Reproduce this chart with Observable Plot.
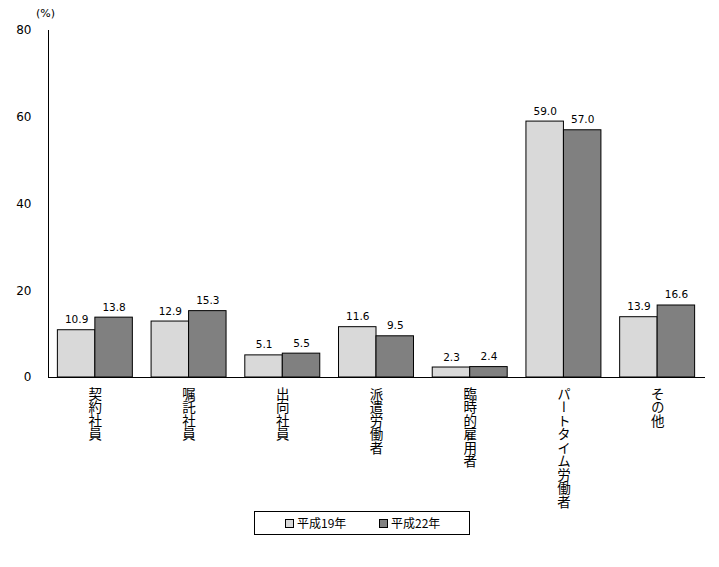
<!DOCTYPE html>
<html><head><meta charset="utf-8">
<script src="https://cdn.jsdelivr.net/npm/d3@7"></script>
<script src="https://cdn.jsdelivr.net/npm/@observablehq/plot@0.6"></script>
<style>
body{margin:0;background:#fff;}
#wrap{position:relative;width:719px;height:567px;font-family:"DejaVu Sans",sans-serif;}
#unit{position:absolute;left:36px;top:7px;font-size:11px;color:#000;}
#legend{position:absolute;left:254px;top:511px;width:214px;height:22px;border:1px solid #000;box-sizing:content-box;font-family:"Noto Sans CJK JP",sans-serif;font-size:12px;}
.li{position:absolute;top:3px;display:flex;align-items:center;line-height:16px;}
.sw{width:7px;height:7px;border:1px solid #000;margin-right:3px;}
</style></head><body><div id="wrap"><div id="unit">(%)</div></div>
<script>
const categories = ["契約社員","嘱託社員","出向社員","派遣労働者","臨時的雇用者","パートタイム労働者","その他"];
const seriesNames = ["平成19年","平成22年"];
const valuesH19 = [10.9,12.9,5.1,11.6,2.3,59.0,13.9];
const valuesH22 = [13.8,15.3,5.5,9.5,2.4,57.0,16.6];
const yTicks = [0,20,40,60,80];
const colors = ["#d9d9d9","#808080"];

const W = 719, ML = 48, MR = 15;
const padIn = 0.2, padOut = 0.1;
const step = (W - ML - MR) / (categories.length - padIn + 2 * padOut);
const half = step * (1 - padIn) / 2;

const d19 = categories.map((c,i)=>({cat:c, series:seriesNames[0], value:valuesH19[i]}));
const d22 = categories.map((c,i)=>({cat:c, series:seriesNames[1], value:valuesH22[i]}));

const plot = Plot.plot({
  width:W, height:510,
  marginLeft:ML, marginRight:MR, marginTop:30, marginBottom:133,
  style:{fontFamily:"DejaVu Sans", background:"#fff", overflow:"visible"},
  x:{domain:categories, paddingInner:padIn, paddingOuter:padOut, round:false, axis:null},
  y:{domain:[0,80]},
  color:{domain:seriesNames, range:colors},
  marks:[
    Plot.barY(d19,{x:"cat", y:"value", fill:"series", stroke:"#000", strokeWidth:1, insetRight:half}),
    Plot.barY(d22,{x:"cat", y:"value", fill:"series", stroke:"#000", strokeWidth:1, insetLeft:half}),
    Plot.text(d19,{x:"cat", y:"value", text:d=>d.value.toFixed(1), lineAnchor:"bottom", dy:-7, dx:-half/2, fontSize:10.5, fill:"#000"}),
    Plot.text(d22,{x:"cat", y:"value", text:d=>d.value.toFixed(1), lineAnchor:"bottom", dy:-7, dx:half/2, fontSize:10.5, fill:"#000"}),
    Plot.axisY({ticks:yTicks, tickSize:0, tickPadding:17, fontSize:12, fill:"#000", label:null}),
    Plot.frame({anchor:"left"}),
    Plot.frame({anchor:"bottom"}),
    Plot.text(categories,{x:d=>d, text:d=>d, frameAnchor:"bottom", textAnchor:"start", lineAnchor:"top", dy:0, fontSize:13.5, fontFamily:"Noto Sans CJK JP", fill:"#000"})
  ]
});
d3.select(plot).selectAll("text").filter(function(){return categories.includes(this.textContent);})
  .style("writing-mode","vertical-rl");
const wrap = document.getElementById("wrap");
wrap.insertBefore(plot, wrap.firstChild);

const legend = document.createElement("div");
legend.id = "legend";
const lx = [30, 124];
seriesNames.forEach((s,i)=>{
  const it = document.createElement("div");
  it.className = "li";
  it.style.left = lx[i] + "px";
  const sw = document.createElement("div");
  sw.className = "sw";
  sw.style.background = colors[i];
  it.appendChild(sw);
  const t = document.createElement("span");
  t.textContent = s;
  it.appendChild(t);
  legend.appendChild(it);
});
wrap.appendChild(legend);
</script></body></html>
